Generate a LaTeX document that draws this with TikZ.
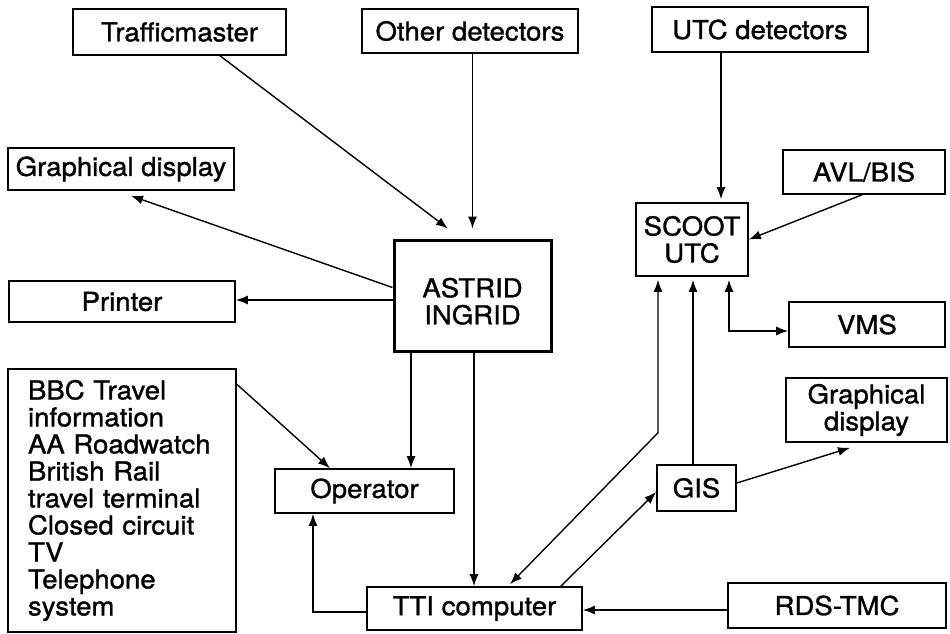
\documentclass[tikz,border=0pt]{standalone}
\usepackage{fontspec}
\setmainfont{TeX Gyre Heros}[FakeStretch=1.06, RawFeature={embolden=1.2}]
\usetikzlibrary{arrows.meta,calc}
\begin{document}
\begin{tikzpicture}[x=1pt,y=-1pt,
  bx/.style={draw, line width=1.6pt, inner sep=0pt, align=center, font=\fontsize{26}{27}\selectfont},
  conn/.style={line width=1.4pt, -{Latex[length=12pt,width=9pt]}},
  dconn/.style={line width=1.4pt, {Latex[length=12pt,width=9pt]}-{Latex[length=12pt,width=9pt]}}]
\useasboundingbox (0,0) rectangle (950,633);
% nodes
\node[bx, minimum width=213pt, minimum height=46pt] (tm) at (179.5,32) {Trafficmaster};
\node[bx, minimum width=216pt, minimum height=44pt] (od) at (470,31) {Other detectors};
\node[bx, minimum width=216pt, minimum height=45pt] (utc) at (760,29.5) {UTC detectors};
\node[bx, minimum width=226pt, minimum height=42pt] (gd1) at (121,169) {Graphical display};
\node[bx, minimum width=226pt, minimum height=41pt] (pr) at (122,301.5) {Printer};
\node[bx, line width=3pt, minimum width=157pt, minimum height=111pt] (ast) at (472.5,295.5) {\rule{0pt}{31pt}ASTRID\\INGRID};
\node[bx, minimum width=228pt, minimum height=263pt, text width=188pt, align=left] (bbc) at (122,500.5)
  {BBC Travel\\information\\AA Roadwatch\\British Rail\\travel terminal\\Closed circuit\\TV\\Telephone\\system};
\node[bx, minimum width=179pt, minimum height=44pt] (op) at (364.5,491) {Operator};
\node[bx, minimum width=215pt, minimum height=43pt] (tti) at (474.5,608.5) {TTI computer};
\node[bx, minimum width=112pt, minimum height=73pt] (scoot) at (692,239.5) {SCOOT\\UTC};
\node[bx, minimum width=162pt, minimum height=44pt] (avl) at (864,172) {AVL/BIS};
\node[bx, minimum width=156pt, minimum height=45pt] (vms) at (867,324.5) {VMS};
\node[bx, minimum width=161pt, minimum height=64pt] (gd2) at (866.5,410) {Graphical\\display};
\node[bx, minimum width=79pt, minimum height=46pt] (gis) at (696.5,488) {GIS};
\node[bx, minimum width=218pt, minimum height=45pt] (rds) at (837,605.5) {RDS-TMC};
% connectors
\draw[conn] ([xshift=40.5pt]tm.south) -- ([xshift=-24.5pt,yshift=10pt]ast.north);
\draw[conn] ([xshift=2.5pt]od.south) -- ([yshift=10pt]ast.north);
\draw[conn] ([yshift=8pt]ast.west) -- ([xshift=10pt,yshift=-5pt]gd1.south);
\coordinate (a1) at ($(ast.west)+(0,4.5)$);
\draw[conn] (a1) -- (a1 -| pr.east);
\draw[conn] ([xshift=-61.5pt]ast.south) -- ([xshift=-61.5pt]ast.south |- op.north);
\draw[conn] ([xshift=1.5pt]ast.south) -- ([xshift=1.5pt]ast.south |- tti.north);
\draw[conn] ([yshift=-16pt]bbc.north east) -- ([xshift=-34.5pt]op.north);
\draw[conn] ([yshift=-3.5pt]tti.west) -| ([xshift=-51.5pt]op.south);
\coordinate (s1) at ($(scoot.south)+(-34,156)$);
\draw[dconn, shorten <=3pt] ([xshift=-34pt]scoot.south) -- (s1) -- ([xshift=35.5pt,yshift=2pt]tti.north);
\draw[conn, shorten >=3pt] ([xshift=-3.5pt]gis.north) -- ([xshift=-3.5pt]gis.north |- scoot.south);
\draw[dconn, shorten <=3pt] ([xshift=37pt]scoot.south) |- ([yshift=-6.5pt]vms.west);
\draw[conn] ([xshift=-22pt]tti.north east) -- ([yshift=-4pt]gis.west);
\draw[conn] ([yshift=5pt]gis.east) -- ([xshift=-16.5pt,yshift=-5pt]gd2.south);
\coordinate (r1) at ($(rds.west)+(0,4.5)$);
\draw[conn] (r1) -- (r1 -| tti.east);
\draw[conn] ([xshift=-39pt]utc.south) -- ([xshift=-39pt,yshift=3pt]utc.south |- scoot.north);
\draw[conn] ([xshift=-2pt]avl.south) -- (scoot.east);
\end{tikzpicture}
\end{document}
